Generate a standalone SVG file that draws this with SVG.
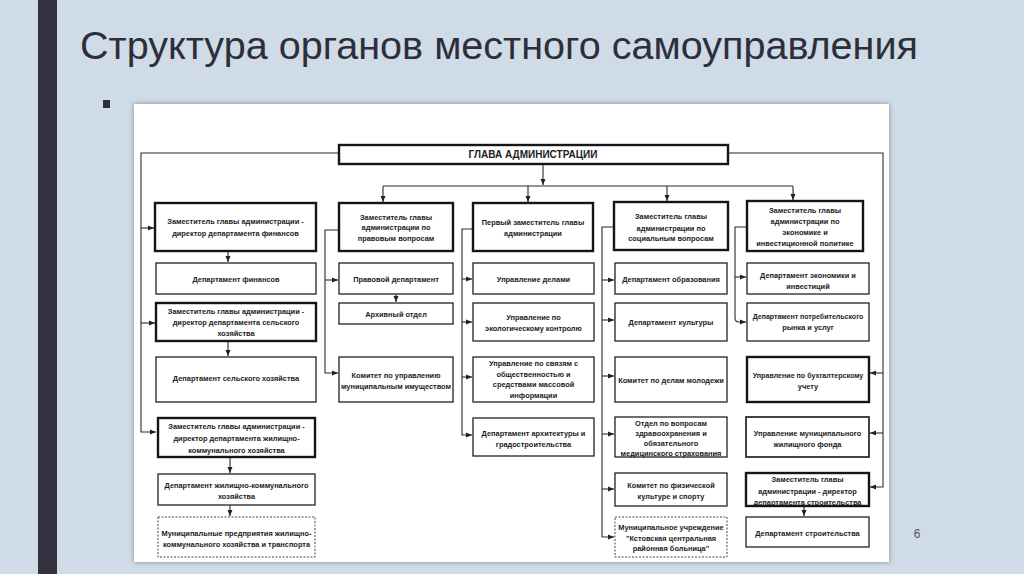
<svg xmlns="http://www.w3.org/2000/svg" width="1024" height="574" viewBox="0 0 1024 574">
<defs>
<marker id="ar" markerUnits="userSpaceOnUse" markerWidth="6" markerHeight="6" refX="6" refY="3" orient="auto">
<path d="M0,0.5 L6,3 L0,5.5 z" fill="#222"/>
</marker>
<filter id="sh" x="-5%" y="-5%" width="110%" height="110%">
<feDropShadow dx="0" dy="0" stdDeviation="2.5" flood-color="#6d7885" flood-opacity="0.8"/>
</filter>
</defs>
<style>
.b{fill:#fff;stroke:#222;stroke-width:1.3}
.t{fill:#fff;stroke:#151515;stroke-width:2.4}
.d{fill:#fff;stroke:#444;stroke-width:1;stroke-dasharray:2,1.5}
.c{fill:none;stroke:#2a2a2a;stroke-width:1.1}
text{font-family:"Liberation Sans",Arial,sans-serif;font-weight:bold;font-size:7.4px;fill:#1c1c1c;text-anchor:middle}
</style>
<rect width="1024" height="574" fill="#cfdbe6"/>
<rect x="38" y="0" width="19" height="574" fill="#35323f"/>
<text x="80" y="59" style="font-weight:normal;font-size:38px;text-anchor:start;fill:#2e2e3a" textLength="838" lengthAdjust="spacingAndGlyphs">Структура органов местного самоуправления</text>
<rect x="103" y="100" width="7" height="8" fill="#2e2e3a"/>
<rect x="134" y="104" width="755" height="458" fill="#fff" filter="url(#sh)"/>
<text x="917" y="538" style="font-weight:normal;font-size:12px;fill:#555">6</text>

<g id="connectors">
<path class="c" d="M339,153 H141 V432 H156" marker-end="url(#ar)"/>
<path class="c" d="M141,228 H154" marker-end="url(#ar)"/>
<path class="c" d="M141,323 H155" marker-end="url(#ar)"/>
<path class="c" d="M728,153 H883 V487 H870" marker-end="url(#ar)"/>
<path class="c" d="M883,373 H870" marker-end="url(#ar)"/>
<path class="c" d="M883,433 H870" marker-end="url(#ar)"/>
<path class="c" d="M543,164 V185" marker-end="url(#ar)"/>
<path class="c" d="M383,186 H793"/>
<path class="c" d="M383,186 V202" marker-end="url(#ar)"/>
<path class="c" d="M528,186 V202" marker-end="url(#ar)"/>
<path class="c" d="M667,186 V201" marker-end="url(#ar)"/>
<path class="c" d="M793,186 V200" marker-end="url(#ar)"/>
<path class="c" d="M228,251 V262" marker-end="url(#ar)"/>
<path class="c" d="M228,341 V356" marker-end="url(#ar)"/>
<path class="c" d="M230,457 V473" marker-end="url(#ar)"/>
<path class="c" d="M230,505 V516" marker-end="url(#ar)"/>
<path class="c" d="M339,230 H325 V373 H338" marker-end="url(#ar)"/>
<path class="c" d="M325,280 H338" marker-end="url(#ar)"/>
<path class="c" d="M396,294 V302" marker-end="url(#ar)"/>
<path class="c" d="M473,229 H462 V435 H472" marker-end="url(#ar)"/>
<path class="c" d="M462,279 H472" marker-end="url(#ar)"/>
<path class="c" d="M462,322 H472" marker-end="url(#ar)"/>
<path class="c" d="M462,377 H472" marker-end="url(#ar)"/>
<path class="c" d="M614,227 H602 V537 H614" marker-end="url(#ar)"/>
<path class="c" d="M602,280 H614" marker-end="url(#ar)"/>
<path class="c" d="M602,320 H614" marker-end="url(#ar)"/>
<path class="c" d="M602,376 H614" marker-end="url(#ar)"/>
<path class="c" d="M602,434 H614" marker-end="url(#ar)"/>
<path class="c" d="M602,489 H614" marker-end="url(#ar)"/>
<path class="c" d="M747,227 H735 V318 Q735,322 739,322 H746" marker-end="url(#ar)"/>
<path class="c" d="M735,277 H746" marker-end="url(#ar)"/>
<path class="c" d="M804,506 V516" marker-end="url(#ar)"/>
</g>

<g id="head"><rect class="t" x="339" y="145" width="389" height="19"/><text x="533" y="158" style="font-size:10px">ГЛАВА АДМИНИСТРАЦИИ</text></g>

<g id="dep-fin"><rect class="t" x="155" y="203" width="161" height="48"/><text x="235.5" y="224">Заместитель главы администрации -</text><text x="235.5" y="236">директор департамента финансов</text></g>
<g id="dep-legal"><rect class="t" x="339" y="203" width="114" height="48"/><text x="396" y="219.5">Заместитель главы</text><text x="396" y="230">администрации по</text><text x="396" y="240.5">правовым вопросам</text></g>
<g id="dep-first"><rect class="t" x="473" y="203" width="120" height="48"/><text x="533" y="225">Первый заместитель главы</text><text x="533" y="236">администрации</text></g>
<g id="dep-social"><rect class="t" x="614" y="202" width="114" height="48"/><text x="671" y="219">Заместитель главы</text><text x="671" y="230.5">администрации по</text><text x="671" y="241">социальным вопросам</text></g>
<g id="dep-econ"><rect class="t" x="747" y="201" width="116" height="50"/><text x="805" y="213">Заместитель главы</text><text x="805" y="224">администрации по</text><text x="805" y="235">экономике и</text><text x="805" y="246">инвестиционной политике</text></g>

<g id="fin-dept"><rect class="b" x="156" y="263" width="160" height="31"/><text x="236" y="282">Департамент финансов</text></g>
<g id="dep-agri"><rect class="t" x="156" y="303" width="160" height="38"/><text x="236" y="314">Заместитель главы администрации -</text><text x="236" y="325">директор департамента сельского</text><text x="236" y="336">хозяйства</text></g>
<g id="agri-dept"><rect class="b" x="156" y="357" width="160" height="45"/><text x="236" y="381">Департамент сельского хозяйства</text></g>
<g id="dep-house"><rect class="t" x="158" y="418" width="157" height="39"/><text x="236.5" y="429">Заместитель главы администрации -</text><text x="236.5" y="441">директор департамента жилищно-</text><text x="236.5" y="453">коммунального хозяйства</text></g>
<g id="house-dept"><rect class="b" x="158" y="474" width="157" height="31"/><text x="236.5" y="488">Департамент жилищно-коммунального</text><text x="236.5" y="498.5">хозяйства</text></g>
<g id="mun-ent"><rect class="d" x="158" y="517" width="157" height="40"/><text x="236.5" y="536">Муниципальные предприятия жилищно-</text><text x="236.5" y="547">коммунального хозяйства и транспорта</text></g>

<g id="legal-dept"><rect class="b" x="339" y="263" width="114" height="31"/><text x="396" y="282">Правовой департамент</text></g>
<g id="archive"><rect class="b" x="339" y="303" width="114" height="21"/><text x="396" y="316.5">Архивный отдел</text></g>
<g id="property"><rect class="b" x="339" y="357" width="114" height="45"/><text x="396" y="378">Комитет по управлению</text><text x="396" y="389">муниципальным имуществом</text></g>

<g id="affairs"><rect class="b" x="473" y="263" width="121" height="31"/><text x="533.5" y="282">Управление делами</text></g>
<g id="ecology"><rect class="b" x="473" y="303" width="121" height="38"/><text x="533.5" y="320">Управление по</text><text x="533.5" y="331">экологическому контролю</text></g>
<g id="media"><rect class="b" x="473" y="357" width="121" height="45"/><text x="533.5" y="366">Управление по связям с</text><text x="533.5" y="376.5">общественностью и</text><text x="533.5" y="387">средствами массовой</text><text x="533.5" y="397.5">информации</text></g>
<g id="architecture"><rect class="b" x="473" y="418" width="121" height="38"/><text x="533.5" y="436">Департамент архитектуры и</text><text x="533.5" y="446.5">градостроительства</text></g>

<g id="education"><rect class="b" x="615" y="263" width="112" height="31"/><text x="671" y="282">Департамент образования</text></g>
<g id="culture"><rect class="b" x="615" y="303" width="112" height="38"/><text x="671" y="325">Департамент культуры</text></g>
<g id="youth"><rect class="b" x="615" y="357" width="112" height="45"/><text x="671" y="383">Комитет по делам молодежи</text></g>
<g id="health"><rect class="b" x="615" y="417" width="112" height="40"/><text x="671" y="425.5">Отдел по вопросам</text><text x="671" y="435.5">здравоохранения и</text><text x="671" y="445.5">обязательного</text><text x="671" y="455.5">медицинского страхования</text></g>
<g id="sport"><rect class="b" x="615" y="473" width="112" height="33"/><text x="671" y="488">Комитет по физической</text><text x="671" y="499">культуре и спорту</text></g>
<g id="hospital"><rect class="d" x="615" y="517" width="112" height="40"/><text x="671" y="530">Муниципальное учреждение</text><text x="671" y="540.5">"Кстовская центральная</text><text x="671" y="551">районная больница"</text></g>

<g id="econ-dept"><rect class="b" x="747" y="263" width="122" height="31"/><text x="808" y="278">Департамент экономики и</text><text x="808" y="288.5">инвестиций</text></g>
<g id="consumer"><rect class="b" x="747" y="303" width="122" height="38"/><text x="808" y="319" style="font-size:7px">Департамент потребительского</text><text x="808" y="330">рынка и услуг</text></g>
<g id="accounting"><rect class="t" x="747" y="357" width="122" height="45"/><text x="808" y="378" style="font-size:7.1px">Управление по бухгалтерскому</text><text x="808" y="389">учету</text></g>
<g id="housing-fund"><rect class="b" x="746" y="417" width="123" height="40" style="stroke-width:1.7"/><text x="807.5" y="436">Управление муниципального</text><text x="807.5" y="446.5">жилищного фонда</text></g>
<g id="dep-constr"><rect class="t" x="746" y="473" width="123" height="33"/><text x="807.5" y="482">Заместитель главы</text><text x="807.5" y="493.5">администрации - директор</text><text x="807.5" y="505">департамента строительства</text></g>
<g id="constr-dept"><rect class="b" x="746" y="517" width="123" height="30"/><text x="807.5" y="535.5">Департамент строительства</text></g>
</svg>
